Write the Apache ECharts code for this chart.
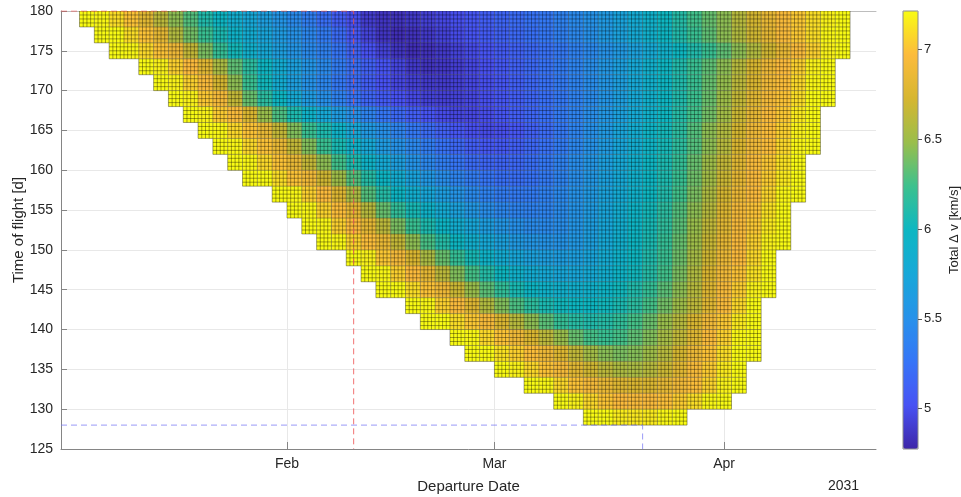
<!DOCTYPE html>
<html>
<head>
<meta charset="utf-8">
<script src="https://cdn.jsdelivr.net/npm/echarts@6/dist/echarts.min.js"></script>
<style>
    html, body { margin: 0; padding: 0; background: #fff; }
    #porkchop { width: 961px; height: 497px; }
</style>
</head>
<body>
<div id="porkchop"></div>
<script>
// departure day counted from 1 Jan 2031 (Feb 1 = 31), each cell is 2 d x 2 d
const cellDays = 2
const subDays = 0.5
const monthDays = [31, 59, 90]
const monthNames = ['Feb', 'Mar', 'Apr']
const barTicks = [5, 5.5, 6, 6.5, 7]
const dvMin = 4.775
const dvMax = 7.214

// red: best departure at max TOF, blue: shortest TOF
const redPoint = [40, 180]
const bluePoint = [79, 128]

// time of flight (centre of each row) and the first departure day of the row
const rowTof = [179, 177, 175, 173, 171, 169, 167, 165, 163, 161, 159, 157, 155, 153, 151, 149, 147, 145, 143, 141, 139, 137, 135, 133, 131, 129]
const rowStart = [4, 6, 8, 12, 14, 16, 18, 20, 22, 24, 26, 30, 32, 34, 36, 40, 42, 44, 48, 50, 54, 56, 60, 64, 68, 72]

// total delta-v [km/s] read along each row
const dv179 = [7.3, 7.2, 7.1, 7.0, 6.8, 6.62, 6.45, 6.3, 6.1, 5.98, 5.85, 5.75, 5.65, 5.55, 5.45, 5.35, 5.22, 5.1, 5.0, 4.9, 4.86, 4.85, 4.88, 4.92, 4.96, 5.0, 5.05, 5.1, 5.15, 5.2, 5.25, 5.3, 5.38, 5.45, 5.52, 5.6, 5.7, 5.8, 5.9, 6.0, 6.12, 6.25, 6.35, 6.45, 6.6, 6.72, 6.85, 6.95, 7.02, 7.1, 7.18, 7.25]
const dv177 = [7.3, 7.22, 7.1, 7.0, 6.82, 6.58, 6.38, 6.22, 6.07, 5.93, 5.82, 5.72, 5.62, 5.52, 5.42, 5.32, 5.2, 5.06, 4.94, 4.86, 4.82, 4.84, 4.88, 4.93, 4.98, 5.03, 5.08, 5.13, 5.18, 5.23, 5.29, 5.36, 5.43, 5.5, 5.6, 5.68, 5.78, 5.88, 5.98, 6.1, 6.22, 6.33, 6.45, 6.58, 6.7, 6.82, 6.95, 7.02, 7.1, 7.2, 7.3]
const dv175 = [7.3, 7.2, 7.08, 7.0, 6.88, 6.65, 6.4, 6.2, 6.03, 5.88, 5.77, 5.65, 5.55, 5.45, 5.37, 5.27, 5.14, 5.02, 4.93, 4.86, 4.82, 4.84, 4.88, 4.93, 4.98, 5.03, 5.08, 5.13, 5.18, 5.24, 5.3, 5.37, 5.44, 5.52, 5.6, 5.68, 5.78, 5.9, 6.0, 6.1, 6.22, 6.33, 6.45, 6.58, 6.7, 6.85, 6.95, 7.05, 7.18, 7.3]
const dv173 = [7.3, 7.18, 7.05, 6.97, 6.8, 6.55, 6.33, 6.15, 5.98, 5.82, 5.67, 5.55, 5.45, 5.33, 5.22, 5.12, 5.03, 4.95, 4.88, 4.85, 4.87, 4.91, 4.96, 5.01, 5.06, 5.12, 5.18, 5.25, 5.32, 5.4, 5.48, 5.57, 5.66, 5.76, 5.88, 5.98, 6.1, 6.22, 6.33, 6.45, 6.6, 6.73, 6.88, 6.97, 7.05, 7.18, 7.3]
const dv171 = [7.3, 7.18, 7.05, 6.95, 6.72, 6.45, 6.22, 6.02, 5.82, 5.65, 5.52, 5.42, 5.3, 5.2, 5.1, 5.02, 4.96, 4.92, 4.89, 4.89, 4.92, 4.96, 5.0, 5.05, 5.11, 5.17, 5.24, 5.31, 5.39, 5.47, 5.56, 5.65, 5.76, 5.88, 5.98, 6.1, 6.22, 6.35, 6.47, 6.62, 6.75, 6.9, 6.98, 7.08, 7.2, 7.3]
const dv169 = [7.3, 7.18, 7.02, 6.92, 6.65, 6.35, 6.15, 5.98, 5.78, 5.62, 5.5, 5.38, 5.26, 5.16, 5.08, 5.02, 4.97, 4.93, 4.92, 4.93, 4.96, 5.0, 5.05, 5.1, 5.16, 5.23, 5.3, 5.38, 5.46, 5.55, 5.65, 5.76, 5.88, 5.98, 6.1, 6.23, 6.36, 6.5, 6.65, 6.8, 6.92, 7.0, 7.1, 7.22, 7.3]
const dv167 = [7.3, 7.18, 7.03, 6.95, 6.75, 6.48, 6.28, 6.08, 5.92, 5.76, 5.62, 5.5, 5.39, 5.28, 5.18, 5.1, 5.03, 4.98, 4.95, 4.96, 4.99, 5.04, 5.1, 5.16, 5.23, 5.31, 5.39, 5.48, 5.57, 5.67, 5.78, 5.9, 6.0, 6.12, 6.25, 6.38, 6.52, 6.68, 6.83, 6.95, 7.02, 7.15, 7.3]
const dv165 = [7.3, 7.2, 7.08, 7.0, 6.85, 6.65, 6.42, 6.22, 6.08, 5.93, 5.75, 5.6, 5.5, 5.4, 5.3, 5.2, 5.12, 5.05, 5.0, 4.98, 5.0, 5.05, 5.12, 5.2, 5.3, 5.4, 5.5, 5.6, 5.72, 5.83, 5.95, 6.03, 6.15, 6.3, 6.45, 6.58, 6.72, 6.88, 6.98, 7.05, 7.18, 7.3]
const dv163 = [7.3, 7.2, 7.08, 7.0, 6.85, 6.65, 6.42, 6.22, 6.06, 5.92, 5.76, 5.62, 5.52, 5.43, 5.34, 5.25, 5.17, 5.1, 5.06, 5.07, 5.11, 5.17, 5.24, 5.32, 5.42, 5.52, 5.62, 5.73, 5.84, 5.95, 6.04, 6.16, 6.3, 6.45, 6.6, 6.75, 6.9, 6.98, 7.08, 7.2, 7.3]
const dv161 = [7.3, 7.2, 7.08, 7.0, 6.85, 6.65, 6.45, 6.25, 6.08, 5.93, 5.78, 5.65, 5.53, 5.43, 5.35, 5.27, 5.2, 5.16, 5.15, 5.17, 5.22, 5.3, 5.38, 5.47, 5.56, 5.66, 5.76, 5.87, 5.98, 6.07, 6.2, 6.35, 6.5, 6.65, 6.8, 6.95, 7.02, 7.12, 7.25]
const dv159 = [7.3, 7.22, 7.1, 7.0, 6.9, 6.7, 6.5, 6.3, 6.12, 5.97, 5.83, 5.7, 5.58, 5.48, 5.4, 5.33, 5.27, 5.23, 5.22, 5.25, 5.31, 5.39, 5.48, 5.57, 5.67, 5.77, 5.88, 5.98, 6.08, 6.22, 6.37, 6.52, 6.68, 6.83, 6.96, 7.04, 7.15, 7.3]
const dv157 = [7.3, 7.2, 7.05, 6.97, 6.78, 6.55, 6.3, 6.12, 5.97, 5.85, 5.74, 5.64, 5.54, 5.45, 5.38, 5.33, 5.31, 5.32, 5.37, 5.44, 5.52, 5.6, 5.69, 5.79, 5.9, 6.0, 6.1, 6.25, 6.4, 6.56, 6.72, 6.87, 6.97, 7.07, 7.2, 7.3]
const dv155 = [7.3, 7.2, 7.06, 6.98, 6.82, 6.6, 6.35, 6.18, 6.05, 5.92, 5.8, 5.68, 5.57, 5.48, 5.42, 5.39, 5.38, 5.4, 5.46, 5.53, 5.62, 5.72, 5.83, 5.94, 6.03, 6.15, 6.3, 6.45, 6.6, 6.77, 6.92, 7.0, 7.12, 7.28]
const dv153 = [7.3, 7.2, 7.05, 6.97, 6.82, 6.62, 6.4, 6.22, 6.08, 5.96, 5.84, 5.74, 5.64, 5.56, 5.5, 5.46, 5.45, 5.48, 5.55, 5.64, 5.74, 5.85, 5.96, 6.05, 6.17, 6.32, 6.48, 6.64, 6.8, 6.94, 7.02, 7.15, 7.3]
const dv151 = [7.3, 7.2, 7.06, 6.98, 6.85, 6.65, 6.45, 6.27, 6.12, 5.98, 5.86, 5.76, 5.67, 5.6, 5.56, 5.53, 5.53, 5.58, 5.66, 5.76, 5.87, 5.98, 6.07, 6.2, 6.35, 6.5, 6.67, 6.83, 6.96, 7.05, 7.18, 7.3]
const dv149 = [7.3, 7.18, 7.02, 6.92, 6.75, 6.55, 6.35, 6.2, 6.05, 5.93, 5.82, 5.74, 5.68, 5.65, 5.64, 5.66, 5.72, 5.81, 5.91, 6.0, 6.1, 6.22, 6.37, 6.53, 6.7, 6.87, 6.97, 7.08, 7.25]
const dv147 = [7.3, 7.2, 7.05, 6.97, 6.82, 6.62, 6.42, 6.26, 6.12, 6.0, 5.9, 5.82, 5.77, 5.74, 5.74, 5.78, 5.85, 5.94, 6.02, 6.12, 6.25, 6.4, 6.57, 6.75, 6.9, 7.0, 7.12, 7.28]
const dv145 = [7.3, 7.25, 7.1, 7.0, 6.88, 6.68, 6.48, 6.32, 6.18, 6.06, 5.97, 5.91, 5.88, 5.87, 5.9, 5.95, 6.02, 6.1, 6.2, 6.32, 6.45, 6.6, 6.78, 6.94, 7.04, 7.18, 7.3]
const dv143 = [7.3, 7.2, 7.05, 6.96, 6.78, 6.58, 6.42, 6.28, 6.16, 6.07, 6.02, 5.99, 5.99, 6.02, 6.07, 6.15, 6.26, 6.38, 6.5, 6.63, 6.8, 6.95, 7.08, 7.25]
const dv141 = [7.3, 7.22, 7.1, 7.02, 6.93, 6.76, 6.6, 6.45, 6.32, 6.2, 6.13, 6.1, 6.12, 6.18, 6.26, 6.36, 6.48, 6.6, 6.74, 6.9, 7.02, 7.15, 7.3]
const dv139 = [7.3, 7.2, 7.08, 7.0, 6.88, 6.75, 6.62, 6.48, 6.35, 6.26, 6.22, 6.26, 6.33, 6.42, 6.53, 6.64, 6.78, 6.95, 7.05, 7.2, 7.3]
const dv137 = [7.3, 7.22, 7.12, 7.05, 6.98, 6.88, 6.77, 6.64, 6.52, 6.44, 6.4, 6.43, 6.5, 6.6, 6.72, 6.87, 7.0, 7.1, 7.22, 7.3]
const dv135 = [7.3, 7.18, 7.08, 7.0, 6.92, 6.8, 6.7, 6.62, 6.56, 6.55, 6.6, 6.68, 6.8, 6.93, 7.03, 7.15, 7.28]
const dv133 = [7.3, 7.2, 7.08, 7.0, 6.92, 6.85, 6.78, 6.75, 6.76, 6.82, 6.9, 6.98, 7.06, 7.18, 7.3]
const dv131 = [7.3, 7.18, 7.08, 7.01, 6.97, 6.95, 6.96, 6.99, 7.04, 7.1, 7.2, 7.3]
const dv129 = [7.3, 7.22, 7.16, 7.14, 7.15, 7.2, 7.3]

const dvRows = [dv179, dv177, dv175, dv173, dv171, dv169, dv167, dv165, dv163, dv161, dv159, dv157, dv155, dv153, dv151, dv149, dv147, dv145, dv143, dv141, dv139, dv137, dv135, dv133, dv131, dv129]

// matlab parula, sampled from the colour bar
const parula = ['#3E26A8', '#4852F4', '#3675F7', '#2792EA', '#17A8D8', '#0DB7C2', '#3DC18E', '#9ABE4B', '#D6B630', '#FCBB3C', '#F9FB14']

const xMin = 0.5
const xMax = 110.5
const yMin = 125
const yMax = 180

function buildCells() {
    const cells = []
    dvRows.forEach((row, r) => {
        const next = dvRows[r + 1]
        row.forEach((dv, i) => {
            const day = rowStart[r] + i * cellDays
            const last = i === row.length - 1 ? 1 : 0
            let below = 0
            if (next) {
                const first = rowStart[r + 1]
                const end = first + (next.length - 1) * cellDays
                below = day >= first && day <= end ? 1 : 0
            }
            cells.push([day, rowTof[r], dv, last, below])
        })
    })
    return cells
}

const gridLine = 'rgba(0, 0, 0, 0.36)'

function renderCell(params, api) {
    const day = api.value(0)
    const tof = api.value(1)
    const a = api.coord([day - cellDays / 2, tof + cellDays / 2])
    const b = api.coord([day + cellDays / 2, tof - cellDays / 2])
    const w = b[0] - a[0]
    const h = b[1] - a[1]
    const n = Math.round(cellDays / subDays)
    const kids = [{
        type: 'rect',
        shape: { x: a[0], y: a[1], width: w, height: h },
        style: { fill: api.visual('color') },
    }]
    for (let k = 0; k <= n; k++) {
        if (k < n || api.value(3)) {
            const x = a[0] + (w * k) / n
            kids.push({ type: 'line', shape: { x1: x, y1: a[1], x2: x, y2: b[1] }, style: { stroke: gridLine, lineWidth: 1 } })
        }
        if (k < n || !api.value(4)) {
            const y = a[1] + (h * k) / n
            kids.push({ type: 'line', shape: { x1: a[0], y1: y, x2: b[0], y2: y }, style: { stroke: gridLine, lineWidth: 1 } })
        }
    }
    return { type: 'group', children: kids }
}

const font = '"Liberation Sans", Arial, Helvetica, sans-serif'
const axisGrey = '#858585'
const textColor = '#262626'

const chart = echarts.init(document.getElementById('porkchop'))
chart.setOption({
    animation: false,
    textStyle: { fontFamily: font },
    grid: [
        { left: 61, right: 85, top: 11, bottom: 48, outerBoundsMode: 'none', containLabel: false },
        { left: 903, top: 11, width: 15, height: 438, outerBoundsMode: 'none', containLabel: false, show: true, borderColor: '#8c8c8c', borderWidth: 1, backgroundColor: 'transparent', z: 10 },
    ],
    xAxis: [
        {
            type: 'value',
            min: xMin,
            max: xMax,
            gridIndex: 0,
            axisLine: { lineStyle: { color: axisGrey } },
            axisTick: { inside: true, length: 7, customValues: monthDays, lineStyle: { color: axisGrey } },
            axisLabel: {
                customValues: monthDays,
                formatter: v => monthNames[monthDays.indexOf(v)],
                fontSize: 14,
                color: textColor,
                margin: 8,
            },
            splitLine: { show: true, lineStyle: { color: '#e8e8e8' } },
            name: 'Departure Date',
            nameLocation: 'middle',
            nameGap: 30,
            nameMoveOverlap: false,
            nameTextStyle: { fontSize: 15, color: textColor },
        },
        {
            type: 'value',
            min: xMin,
            max: xMax,
            gridIndex: 0,
            position: 'top',
            axisLine: { lineStyle: { color: '#bdbdbd' } },
            axisTick: { show: false },
            axisLabel: { show: false },
            splitLine: { show: false },
        },
        { type: 'value', gridIndex: 1, show: false, min: 0, max: 1 },
    ],
    yAxis: [
        {
            type: 'value',
            min: yMin,
            max: yMax,
            interval: 5,
            gridIndex: 0,
            axisLine: { show: true, lineStyle: { color: axisGrey } },
            axisTick: { show: true, inside: true, length: 6, lineStyle: { color: axisGrey } },
            axisLabel: { fontSize: 14, color: textColor, margin: 8 },
            splitLine: { show: true, lineStyle: { color: '#e8e8e8' } },
            name: 'Time of flight [d]',
            nameLocation: 'middle',
            nameGap: 35,
            nameMoveOverlap: false,
            nameTextStyle: { fontSize: 15, color: textColor },
        },
        {
            type: 'value',
            min: dvMin,
            max: dvMax,
            gridIndex: 1,
            position: 'right',
            z: 11,
            axisLine: { show: false, onZero: false },
            axisTick: { show: true, inside: false, length: 4, customValues: barTicks, lineStyle: { color: '#555' } },
            axisLabel: { customValues: barTicks, fontSize: 13, color: textColor, margin: 6 },
            splitLine: { show: false },
            name: 'Total Δ v [km/s]',
            nameLocation: 'middle',
            nameRotate: 90,
            nameGap: 30,
            nameMoveOverlap: false,
            nameTextStyle: { fontSize: 13, color: textColor },
        },
    ],
    visualMap: {
        type: 'continuous',
        seriesIndex: 0,
        dimension: 2,
        min: dvMin,
        max: dvMax,
        left: 903,
        top: 11,
        itemWidth: 15,
        itemHeight: 438,
        padding: 0,
        calculable: false,
        hoverLink: false,
        showLabel: false,
        text: null,
        inRange: { color: parula },
    },
    graphic: [
        { type: 'text', left: 828, top: 479, style: { text: '2031', fontSize: 14, fontFamily: font, fill: textColor } },
    ],
    series: [
        {
            type: 'custom',
            xAxisIndex: 0,
            yAxisIndex: 0,
            silent: true,
            clip: true,
            renderItem: renderCell,
            encode: { x: 0, y: 1 },
            data: buildCells(),
        },
        {
            type: 'line',
            xAxisIndex: 0,
            yAxisIndex: 0,
            symbol: 'none',
            silent: true,
            z: 5,
            lineStyle: { color: 'rgba(238, 90, 90, 0.85)', width: 1, type: [6, 4] },
            data: [[xMin, redPoint[1]], redPoint, [redPoint[0], yMin]],
        },
        {
            type: 'line',
            xAxisIndex: 0,
            yAxisIndex: 0,
            symbol: 'none',
            silent: true,
            z: 5,
            lineStyle: { color: 'rgba(120, 120, 245, 0.75)', width: 1, type: [6, 4] },
            data: [[xMin, bluePoint[1]], bluePoint, [bluePoint[0], yMin]],
        },
    ],
})
</script>
</body>
</html>
